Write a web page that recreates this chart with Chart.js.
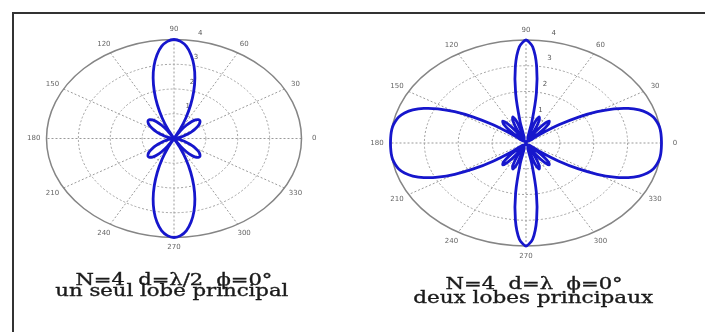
<!DOCTYPE html>
<html>
<head>
<meta charset="utf-8">
<script src="https://cdn.jsdelivr.net/npm/chart.js@4/dist/chart.umd.min.js"></script>
<style>
  body { margin: 0; background: #fff; }
  #page { position: relative; width: 705px; height: 332px; overflow: hidden; background: #fff; }
  #frame { position: absolute; left: 12px; top: 12px; width: 720px; height: 340px;
           border-left: 2px solid #333; border-top: 2px solid #333; }
  canvas { position: absolute; left: 0; top: 0; }
  .cap { position: absolute; font-family: "DejaVu Serif", serif; color: #1a1a1a;
         white-space: pre; line-height: 16px; font-size: 16px; transform-origin: center top;
         -webkit-text-stroke: 0.35px #1a1a1a; }
</style>
</head>
<body>
<div id="page">
  <div id="frame"></div>
  <canvas id="leftChart" width="705" height="332"></canvas>
  <canvas id="rightChart" width="705" height="332"></canvas>
  <div class="cap" id="capL1">N=4  d=λ/2  ϕ=0°</div>
  <div class="cap" id="capL2">un seul lobe principal</div>
  <div class="cap" id="capR1">N=4  d=λ  ϕ=0°</div>
  <div class="cap" id="capR2">deux lobes principaux</div>
</div>
<script>
// angle in degrees (0 = right, counter-clockwise)
const angles = [0,3,6,9,12,15,18,21,24,27,30,33,36,39,42,45,48,51,54,57,60,63,66,69,72,75,78,81,84,87,
  90,93,96,99,102,105,108,111,114,117,120,123,126,129,132,135,138,141,144,147,150,153,156,159,162,165,168,171,174,177,
  180,183,186,189,192,195,198,201,204,207,210,213,216,219,222,225,228,231,234,237,240,243,246,249,252,255,258,261,264,267,
  270,273,276,279,282,285,288,291,294,297,300,303,306,309,312,315,318,321,324,327,330,333,336,339,342,345,348,351,354,357,360];

// N=4, d=lambda/2
const rHalfLambda = [0,0.01,0.03,0.08,0.14,0.21,0.30,0.41,0.52,0.64,0.76,0.88,0.98,1.05,1.09,1.08,1.01,0.87,0.66,0.37,0,0.44,0.93,1.46,2.00,2.53,3.01,3.42,3.74,3.93,4.00,
  3.93,3.74,3.42,3.01,2.53,2.00,1.46,0.93,0.44,0,0.37,0.66,0.87,1.01,1.08,1.09,1.05,0.98,0.88,0.76,0.64,0.52,0.41,0.30,0.21,0.14,0.08,0.03,0.01,0,
  0.01,0.03,0.08,0.14,0.21,0.30,0.41,0.52,0.64,0.76,0.88,0.98,1.05,1.09,1.08,1.01,0.87,0.66,0.37,0,0.44,0.93,1.46,2.00,2.53,3.01,3.42,3.74,3.93,4.00,
  3.93,3.74,3.42,3.01,2.53,2.00,1.46,0.93,0.44,0,0.37,0.66,0.87,1.01,1.08,1.09,1.05,0.98,0.88,0.76,0.64,0.52,0.41,0.30,0.21,0.14,0.08,0.03,0.01,0];

// N=4, d=lambda
const rLambda = [4.00,4.00,4.00,3.99,3.95,3.89,3.77,3.58,3.30,2.92,2.43,1.85,1.20,0.52,0.12,0.65,0.99,1.09,0.93,0.54,0,0.55,0.96,1.08,0.82,0.15,0.83,1.96,3.00,3.74,4.00,
  3.74,3.00,1.96,0.83,0.15,0.82,1.08,0.96,0.55,0,0.54,0.93,1.09,0.99,0.65,0.12,0.52,1.20,1.85,2.43,2.92,3.30,3.58,3.77,3.89,3.95,3.99,4.00,4.00,4.00,
  4.00,4.00,3.99,3.95,3.89,3.77,3.58,3.30,2.92,2.43,1.85,1.20,0.52,0.12,0.65,0.99,1.09,0.93,0.54,0,0.55,0.96,1.08,0.82,0.15,0.83,1.96,3.00,3.74,4.00,
  3.74,3.00,1.96,0.83,0.15,0.82,1.08,0.96,0.55,0,0.54,0.93,1.09,0.99,0.65,0.12,0.52,1.20,1.85,2.43,2.92,3.30,3.58,3.77,3.89,3.95,3.99,4.00,4.00,4.00];

const angleTicks = [0, 30, 60, 90, 120, 150, 180, 210, 240, 270, 300, 330];
const radialTicks = [1, 2, 3, 4];
const rMax = 4;

const rad = d => d * Math.PI / 180;

function toXY(values) {
    return angles.map((a, i) => ({ x: values[i] * Math.cos(rad(a)), y: values[i] * Math.sin(rad(a)) }));
}

// matlab-like polar grid drawn under the curve
const polarGrid = {
    id: 'polarGrid',
    beforeDatasetsDraw(chart) {
        const { ctx, scales: { x, y } } = chart;
        const cx = x.getPixelForValue(0), cy = y.getPixelForValue(0);
        const px = (r, a) => x.getPixelForValue(r * Math.cos(rad(a)));
        const py = (r, a) => y.getPixelForValue(r * Math.sin(rad(a)));
        ctx.save();
        ctx.strokeStyle = '#9a9a9a';
        ctx.lineWidth = 1;
        // spokes
        ctx.setLineDash([2, 2]);
        angleTicks.filter(a => a < 180).forEach(a => {
            ctx.beginPath();
            ctx.moveTo(px(rMax, a), py(rMax, a));
            ctx.lineTo(px(rMax, a + 180), py(rMax, a + 180));
            ctx.stroke();
        });
        // rings
        radialTicks.forEach(r => {
            const rx = x.getPixelForValue(r) - cx;
            const ry = cy - y.getPixelForValue(r);
            ctx.setLineDash(r === rMax ? [] : [2, 2]);
            ctx.strokeStyle = r === rMax ? '#858585' : '#a0a0a0';
            ctx.lineWidth = r === rMax ? 1.5 : 1;
            ctx.beginPath();
            ctx.ellipse(cx, cy, rx, ry, 0, 0, Math.PI * 2);
            ctx.stroke();
        });
        // angle labels
        ctx.setLineDash([]);
        ctx.fillStyle = '#666';
        ctx.font = '7px "DejaVu Sans", sans-serif';
        ctx.textAlign = 'center';
        ctx.textBaseline = 'middle';
        angleTicks.forEach(a => {
            ctx.fillText(String(a), px(rMax * 1.1, a), py(rMax * 1.1, a));
        });
        // radial labels, just right of the 90 degree spoke
        ctx.fillStyle = '#555';
        radialTicks.forEach(r => {
            const lx = x.getPixelForValue(r * Math.cos(rad(82.5)) + 0.3);
            const ly = y.getPixelForValue(r * Math.sin(rad(82.5)) + 0.3);
            ctx.fillText(String(r), lx, ly);
        });
        ctx.restore();
    }
};

function makePolar(id, values, pad) {
    return new Chart(document.getElementById(id), {
        type: 'scatter',
        data: {
            datasets: [{
                data: toXY(values),
                showLine: true,
                borderColor: '#1616cc',
                borderWidth: 2.8,
                pointRadius: 0,
                tension: 0.25,
                clip: false
            }]
        },
        options: {
            responsive: false,
            animation: false,
            layout: { padding: pad },
            plugins: { legend: { display: false }, tooltip: { enabled: false } },
            scales: {
                x: { type: 'linear', min: -rMax, max: rMax, display: false },
                y: { type: 'linear', min: -rMax, max: rMax, display: false }
            }
        },
        plugins: [polarGrid]
    });
}

makePolar('leftChart', rHalfLambda, { left: 46.5, right: 403.5, top: 39.5, bottom: 94.5 });
makePolar('rightChart', rLambda, { left: 390.5, right: 43.5, top: 40, bottom: 86 });

// captions: centre x, baseline y, target width
const captions = [
    ['capL1', 173.5, 285, 197],
    ['capL2', 171.5, 296, 233],
    ['capR1', 534.5, 289, 177],
    ['capR2', 533, 303, 240]
];
captions.forEach(([id, cx, base, w]) => {
    const el = document.getElementById(id);
    const natural = el.getBoundingClientRect().width;
    const s = w / natural;
    el.style.left = (cx - natural / 2) + 'px';
    el.style.top = (base - 13.5) + 'px';
    el.style.transform = 'scaleX(' + s.toFixed(3) + ')';
});
</script>
</body>
</html>
